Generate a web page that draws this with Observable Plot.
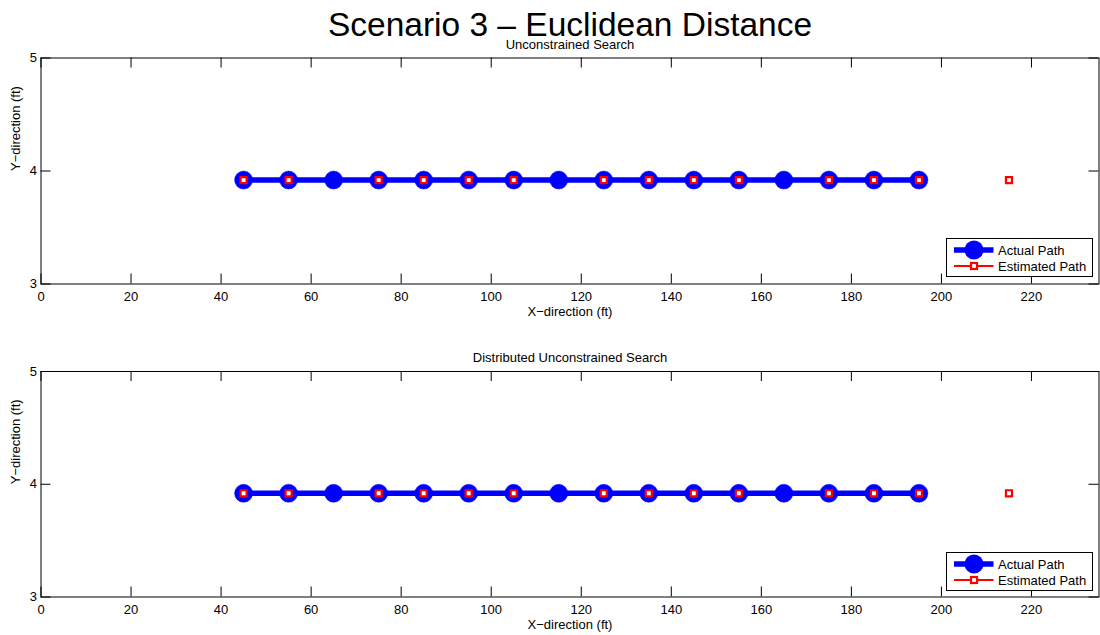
<!DOCTYPE html>
<html>
<head>
<meta charset="utf-8">
<script src="https://cdn.jsdelivr.net/npm/d3@7"></script>
<script src="https://cdn.jsdelivr.net/npm/@observablehq/plot@0.6"></script>
<style>
  body { margin: 0; background: #fff; }
  #wrap { position: relative; width: 1100px; height: 635px; overflow: hidden; font-family: "Liberation Sans", Arial, sans-serif; }
  #wrap svg.plotpanel { display: block; }
  .legend { position: absolute; left: 0; top: 0; }
</style>
</head>
<body>
<div id="wrap"></div>
<script>
// ---- data ----
const title = "Scenario 3 – Euclidean Distance";
const panelTitles = ["Unconstrained Search", "Distributed Unconstrained Search"];
const xLabel = "X−direction (ft)";
const yLabel = "Y−direction (ft)";
const xTicks = [0, 20, 40, 60, 80, 100, 120, 140, 160, 180, 200, 220];
const yTicks = [3, 4, 5];
const xDomain = [0, 235];
const yDomain = [3, 5];

// Actual path (both panels)
const actualX = [45, 55, 65, 75, 85, 95, 105, 115, 125, 135, 145, 155, 165, 175, 185, 195];
const actualY = [3.92, 3.92, 3.92, 3.92, 3.92, 3.92, 3.92, 3.92, 3.92, 3.92, 3.92, 3.92, 3.92, 3.92, 3.92, 3.92];
// Estimated path (both panels)
const estX = [45, 55, 75, 85, 95, 105, 125, 135, 145, 155, 175, 185, 195, 215];
const estY = [3.92, 3.92, 3.92, 3.92, 3.92, 3.92, 3.92, 3.92, 3.92, 3.92, 3.92, 3.92, 3.92, 3.92];

const legendLabels = ["Actual Path", "Estimated Path"];
const blue = "#0000ff";
const red = "#ff0000";

const actual = actualX.map((x, i) => ({x, y: actualY[i]}));
const est = estX.map((x, i) => ({x, y: estY[i]}));

// ---- layout ----
const W = 1100;
const mL = 40.5, mR = 1.5;
const panels = [
  {H: 317, top: 57.5, bottom: 283.5},
  {H: 318, top: 54, bottom: 279.5}
];
const font = "'Liberation Sans', Arial, sans-serif";
const wrap = document.getElementById("wrap");

panels.forEach((p, i) => {
  const innerH = p.bottom - p.top;
  const innerW = W - mL - mR;
  const tick = 10;
  const svg = Plot.plot({
    width: W,
    height: p.H,
    marginLeft: mL,
    marginRight: mR,
    marginTop: p.top,
    marginBottom: p.H - p.bottom,
    style: {fontFamily: font, fontSize: "13px", background: "transparent", overflow: "visible", color: "black"},
    x: {domain: xDomain},
    y: {domain: yDomain},
    marks: [
      Plot.line(actual, {x: "x", y: "y", stroke: blue, strokeWidth: 5.5}),
      Plot.dot(actual, {x: "x", y: "y", r: 9, fill: blue, stroke: blue, strokeWidth: 0.5}),
      Plot.dot(est, {x: "x", y: "y", symbol: "square", r: 3.4, stroke: red, strokeWidth: 2.2, fill: "white"}),
      // inward ticks
      Plot.ruleX(xTicks, {x: d => d, insetTop: innerH - tick, stroke: "black"}),
      Plot.ruleX(xTicks, {x: d => d, insetBottom: innerH - tick, stroke: "black"}),
      Plot.ruleY(yTicks, {y: d => d, insetRight: innerW - tick, stroke: "black"}),
      Plot.ruleY(yTicks, {y: d => d, insetLeft: innerW - tick, stroke: "black"}),
      Plot.axisX(xTicks, {anchor: "bottom", tickSize: 0, tickPadding: 8, label: null, fill: "black", tickFormat: d3.format("d")}),
      Plot.axisY(yTicks, {anchor: "left", tickSize: 0, tickPadding: 4, label: null, fill: "black", tickFormat: d3.format("d")}),
      Plot.frame({stroke: "black", strokeWidth: 1}),
      Plot.text([panelTitles[i]], {text: d => d, frameAnchor: "top", dy: -9.5, lineAnchor: "bottom", fill: "black", fontSize: 13}),
      Plot.text([xLabel], {text: d => d, frameAnchor: "bottom", dy: 23, lineAnchor: "top", fill: "black", fontSize: 13}),
      Plot.text([yLabel], {text: d => d, frameAnchor: "left", dx: -25, rotate: -90, fill: "black", fontSize: 13}),
      i === 0 ? Plot.text([title], {text: d => d, frameAnchor: "top", dy: -22.5, lineAnchor: "bottom", fill: "black", fontSize: 33.5}) : null
    ]
  });
  svg.classList.add("plotpanel");
  wrap.appendChild(svg);
});

// ---- legends ----
const legendBoxes = [238.5, 552.5];
const lsvg = d3.select(wrap).append("svg")
  .attr("class", "legend")
  .attr("width", W).attr("height", 635)
  .style("font-family", font).style("font-size", "13px");
legendBoxes.forEach(top => {
  const g = lsvg.append("g").attr("transform", `translate(946.5,${top})`);
  g.append("rect").attr("width", 146).attr("height", 38).attr("fill", "white").attr("stroke", "black").attr("stroke-width", 1);
  const rows = [
    {label: legendLabels[0], y: 11.5, color: blue},
    {label: legendLabels[1], y: 27.5, color: red}
  ];
  // row 1: actual path
  g.append("line").attr("x1", 7.5).attr("x2", 47).attr("y1", rows[0].y).attr("y2", rows[0].y).attr("stroke", blue).attr("stroke-width", 5.5);
  g.append("circle").attr("cx", 27.5).attr("cy", rows[0].y).attr("r", 9.5).attr("fill", blue);
  // row 2: estimated path
  g.append("line").attr("x1", 7.5).attr("x2", 47).attr("y1", rows[1].y).attr("y2", rows[1].y).attr("stroke", red).attr("stroke-width", 2);
  g.append("rect").attr("x", 24.5).attr("y", rows[1].y - 3).attr("width", 6).attr("height", 6).attr("fill", "white").attr("stroke", red).attr("stroke-width", 2.2);
  rows.forEach(r => {
    g.append("text").attr("x", 51.5).attr("y", r.y).attr("dy", "0.35em").attr("fill", "black").text(r.label);
  });
});
</script>
</body>
</html>
